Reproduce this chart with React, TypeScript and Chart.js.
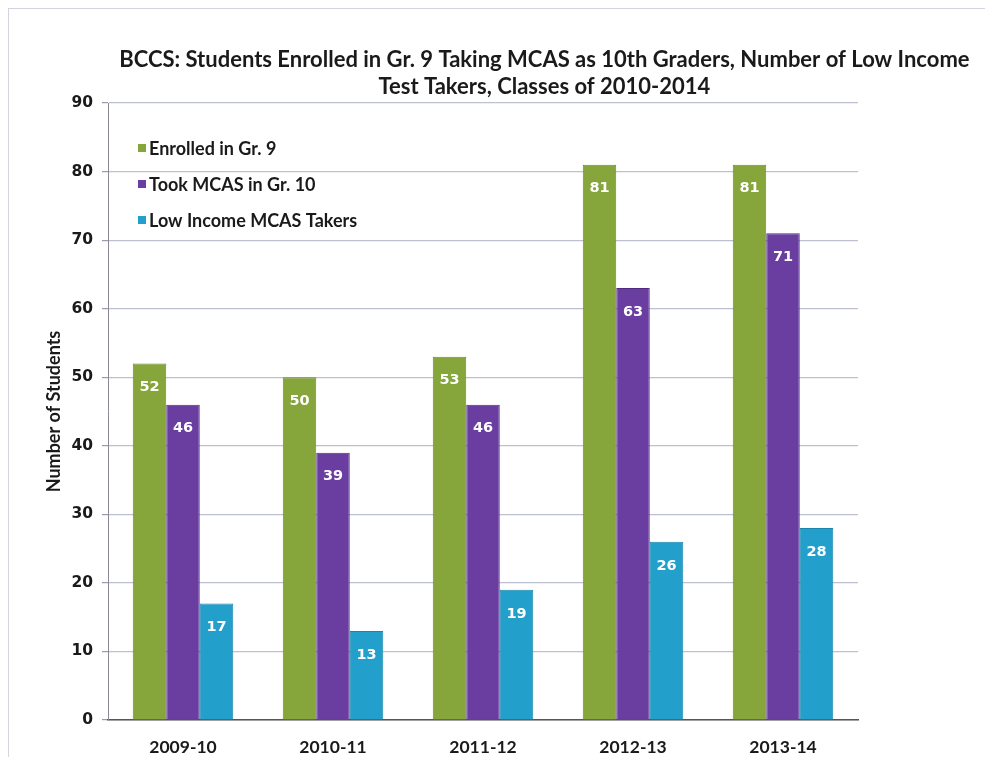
import React, { useEffect, useRef } from "react";
import { Chart, registerables } from "chart.js";

Chart.register(...registerables);

const titleLines = [
  "BCCS: Students Enrolled in Gr. 9 Taking MCAS as 10th Graders, Number of Low Income",
  "Test Takers, Classes of 2010-2014",
];
const categories = ["2009-10", "2010-11", "2011-12", "2012-13", "2013-14"];
const enrolled = [52, 50, 53, 81, 81];
const tookMcas = [46, 39, 46, 63, 71];
const lowIncome = [17, 13, 19, 26, 28];
const seriesNames = ["Enrolled in Gr. 9", "Took MCAS in Gr. 10", "Low Income MCAS Takers"];
const yTitle = "Number of Students";

const colors = ["#86a53b", "#6a3ea1", "#239fcb"];
const borders = ["#6f8a2c", "#4f2c80", "#1a86ad"];

const overlayPlugin = {
  id: "overlay",
  afterDatasetsDraw(chart: any) {
    const ctx = chart.ctx;
    const area = chart.chartArea;
    ctx.save();
    // data labels
    ctx.fillStyle = "#ffffff";
    ctx.font = "bold 14.5px 'DejaVu Sans'";
    ctx.textAlign = "center";
    ctx.textBaseline = "middle";
    chart.data.datasets.forEach((ds: any, i: number) => {
      const meta = chart.getDatasetMeta(i);
      meta.data.forEach((bar: any, j: number) => {
        ctx.fillText(String(ds.data[j]), bar.x, bar.y + 24);
      });
    });
    // legend
    ctx.textAlign = "left";
    ctx.font = "bold 18px Lato";
    chart.data.datasets.forEach((ds: any, i: number) => {
      const y = area.top + 45 + i * 36;
      const x = area.left + 30;
      ctx.fillStyle = ds.backgroundColor;
      ctx.fillRect(x, y - 4, 8, 8);
      ctx.fillStyle = "#1a1a1a";
      ctx.fillText(ds.label, x + 11, y + 1);
    });
    // title
    ctx.textAlign = "center";
    ctx.fillStyle = "#1a1a1a";
    ctx.font = "bold 22px Lato";
    const cx = chart.width * 0.549;
    titleLines.forEach((t, k) => {
      ctx.fillText(t, cx, area.top - 43 + k * 27);
    });
    ctx.restore();
  },
};

export default function App() {
  const ref = useRef<HTMLCanvasElement | null>(null);
  useEffect(() => {
    if (!ref.current) return;
    const data = [enrolled, tookMcas, lowIncome];
    const chart = new Chart(ref.current, {
      type: "bar",
      data: {
        labels: categories,
        datasets: data.map((d, i) => ({
          label: seriesNames[i],
          data: d,
          backgroundColor: colors[i],
          borderColor: borders[i],
          borderWidth: 1,
          barPercentage: 1,
          categoryPercentage: 0.67,
        })),
      },
      options: {
        animation: false,
        responsive: true,
        maintainAspectRatio: false,
        layout: { padding: { left: 31, top: 95, right: 127, bottom: 0 } },
        plugins: {
          legend: { display: false },
          title: { display: false },
          tooltip: { enabled: false },
        },
        scales: {
          x: {
            grid: { display: false, drawTicks: false },
            border: { color: "#555555", width: 1.5 },
            ticks: {
              color: "#1a1a1a",
              font: { family: "Lato", size: 17.5, weight: "bold" },
              padding: 17,
            },
            afterFit: (s: any) => {
              s.height = 37;
            },
          },
          y: {
            min: 0,
            max: 90,
            ticks: {
              stepSize: 10,
              color: "#1a1a1a",
              font: { family: "'DejaVu Sans'", size: 15.5, weight: "bold" },
              padding: 9,
            },
            grid: {
              color: "#bcc0d0",
              tickColor: "#9a9aa8",
              tickLength: 6,
              lineWidth: 1.2,
            },
            border: { color: "#8a8a96", width: 1 },
            title: {
              display: true,
              text: yTitle,
              color: "#1a1a1a",
              font: { family: "Lato", size: 18, weight: "bold" },
              padding: { top: 4, bottom: 0 },
            },
            afterFit: (s: any) => {
              s.width = 69;
            },
          },
        },
      },
      plugins: [overlayPlugin],
    });
    return () => chart.destroy();
  }, []);
  return (
    <div
      style={{
        position: "relative",
        width: 977,
        height: 749,
        boxShadow: "inset 1px 1px 0 #d4d4e0",
      }}
    >
      <canvas ref={ref} />
    </div>
  );
}
